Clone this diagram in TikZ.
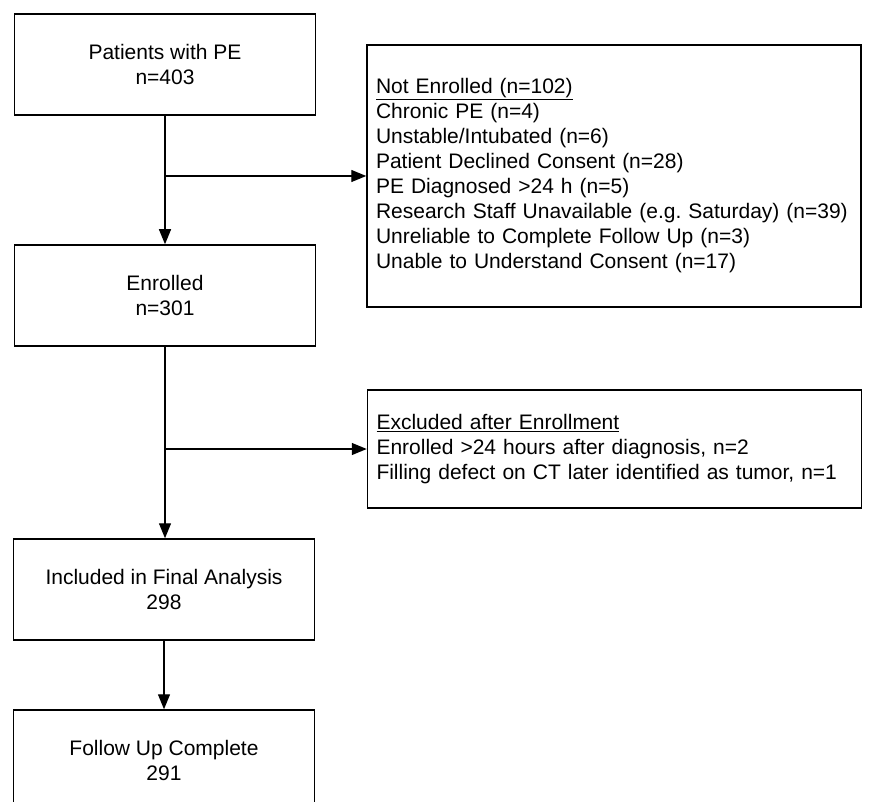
\documentclass[tikz,border=0pt]{standalone}
\usepackage{fontspec}
\setmainfont{Liberation Sans}
\usetikzlibrary{arrows.meta}
\frenchspacing
\begin{document}
\begin{tikzpicture}[x=1pt,y=-1pt,
  font=\fontsize{21pt}{25pt}\selectfont,
  box/.style={draw,line width=1.5pt,minimum width=301pt,minimum height=101pt,align=center,inner sep=0pt},
  listbox/.style={draw,line width=1.5pt,text width=476pt,inner xsep=9pt,inner ysep=0pt,align=left},
  arr/.style={line width=1.3pt,-{Triangle[length=15pt,width=12pt]}}]
\useasboundingbox (0,0) rectangle (875,802);
\clip (0,0) rectangle (875,802);
\node[box] (patients) at (165,64.5) {Patients with PE\\n=403};
\node[box] (enrolled) at (165,295.5) {Enrolled\\n=301};
\node[box] (included) at (164,589.5) {Included in Final Analysis\\298};
\node[box] (followup) at (164,760.5) {Follow Up Complete\\291};
\node[listbox,minimum height=262pt] (notenrolled) at (614,176) {\underline{Not Enrolled (n=102)}\\
Chronic PE (n=4)\\
Unstable/Intubated (n=6)\\
Patient Declined Consent (n=28)\\
PE Diagnosed >24 h (n=5)\\
Research Staff Unavailable (e.g. Saturday) (n=39)\\
Unreliable to Complete Follow Up (n=3)\\
Unable to Understand Consent (n=17)};
\node[listbox,minimum height=118pt] (excluded) at (614.5,449) {\underline{Excluded after Enrollment}\\
Enrolled >24 hours after diagnosis, n=2\\
Filling defect on CT later identified as tumor, n=1};
\coordinate (split1) at (patients.south |- notenrolled.west);
\coordinate (split2) at (enrolled.south |- excluded.west);
\draw[arr] (patients.south) -- (enrolled.north);
\draw[arr] (split1) -- (notenrolled.west);
\draw[arr] (enrolled.south) -- (enrolled.south |- included.north);
\draw[arr] (split2) -- (excluded.west);
\draw[arr] (included.south) -- (followup.north);
\end{tikzpicture}
\end{document}
